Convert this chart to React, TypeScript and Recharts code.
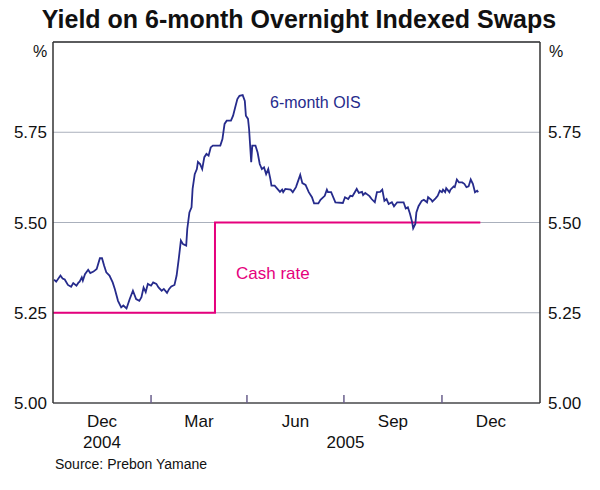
import React from 'react'
import { LineChart, Line, XAxis, YAxis, CartesianGrid, ReferenceLine } from 'recharts'

// x values are days counted from 1 Oct 2004
const oisDays = [
  1, 3, 7, 9, 11, 14, 17, 19, 22, 24, 25, 27, 28, 30, 33, 35, 38, 41, 44, 46,
  48, 50, 53, 56, 58, 61, 64, 66, 69, 72, 75, 78, 81, 83, 85, 87, 89, 92, 94, 97,
  99, 102, 104, 107, 109, 111, 114, 116, 118, 120, 122, 125, 126, 128, 130, 131, 133, 135, 136, 138,
  140, 142, 144, 146, 148, 150, 157, 159, 161, 163, 167, 169, 171, 173, 175, 178, 180, 181, 183, 184,
  186, 187, 190, 192, 194, 196, 198, 200, 202, 204, 205, 208, 213, 215, 216, 218, 223, 225, 228, 232,
  234, 237, 240, 243, 245, 249, 251, 255, 257, 258, 261, 265, 272, 274, 277, 279, 281, 285, 287, 290,
  291, 293, 297, 299, 302, 304, 307, 309, 311, 313, 315, 318, 320, 323, 329, 331, 333, 335, 337, 338,
  340, 341, 343, 346, 348, 351, 352, 355, 356, 359, 361, 363, 365, 366, 368, 369, 372, 373, 376, 377,
  379, 381, 384, 386, 388, 390, 392, 394, 396, 398, 399,
]
const oisYield = [
  5.342, 5.336, 5.353, 5.345, 5.342, 5.327, 5.322, 5.332, 5.325, 5.334, 5.336, 5.348, 5.339, 5.357, 5.369, 5.36, 5.364, 5.371, 5.401, 5.401,
  5.38, 5.362, 5.353, 5.334, 5.316, 5.283, 5.265, 5.27, 5.262, 5.288, 5.311, 5.288, 5.283, 5.293, 5.32, 5.307, 5.33, 5.325, 5.334, 5.33,
  5.32, 5.311, 5.316, 5.305, 5.316, 5.323, 5.327, 5.353, 5.399, 5.45, 5.44, 5.436, 5.482, 5.528, 5.542, 5.593, 5.634, 5.648, 5.668, 5.662,
  5.648, 5.681, 5.69, 5.685, 5.708, 5.713, 5.713, 5.731, 5.773, 5.782, 5.782, 5.796, 5.819, 5.842, 5.851, 5.853, 5.837, 5.796, 5.787, 5.759,
  5.667, 5.713, 5.713, 5.694, 5.662, 5.648, 5.653, 5.634, 5.648, 5.62, 5.602, 5.602, 5.585, 5.591, 5.584, 5.593, 5.591, 5.584, 5.598, 5.632,
  5.609, 5.604, 5.584, 5.57, 5.553, 5.553, 5.563, 5.574, 5.591, 5.584, 5.584, 5.556, 5.554, 5.57, 5.565, 5.574, 5.573, 5.593, 5.582, 5.585,
  5.576, 5.582, 5.573, 5.565, 5.556, 5.584, 5.585, 5.591, 5.56, 5.565, 5.551, 5.556, 5.545, 5.556, 5.556, 5.539, 5.542, 5.524, 5.501, 5.484,
  5.496, 5.528, 5.545, 5.56, 5.563, 5.556, 5.57, 5.563, 5.558, 5.567, 5.574, 5.588, 5.584, 5.591, 5.584, 5.595, 5.584, 5.591, 5.6, 5.598,
  5.619, 5.611, 5.611, 5.607, 5.598, 5.6, 5.619, 5.607, 5.584, 5.588, 5.584,
]
const cashDays = [0, 152, 401]
const cashRate = [5.25, 5.5, 5.5]

const quarterStarts = [92, 182, 273, 365]
const monthLabelDays = [46, 137, 227.5, 319, 411]
const monthLabels = ['Dec', 'Mar', 'Jun', 'Sep', 'Dec']
const yearLabelDays = [46, 274.5]
const yearLabels = ['2004', '2005']
const yTicks = [5, 5.25, 5.5, 5.75]

const oisData = oisDays.map((d, i) => ({ day: d, v: oisYield[i] }))
const cashData = cashDays.map((d, i) => ({ day: d, v: cashRate[i] }))
const xTicks = [...quarterStarts, ...monthLabelDays, 274.5]

const FONT = '"Liberation Sans", Arial, sans-serif'
const OIS_COLOR = '#262b8c'
const CASH_COLOR = '#e5007d'

function DateTick(props: any) {
  const { x, y, payload } = props
  const v = payload.value
  if (quarterStarts.includes(v)) {
    return <line x1={x} x2={x} y1={y - 8} y2={y} stroke="#6a5f8c" strokeWidth={1.5} />
  }
  const mi = monthLabelDays.indexOf(v)
  const yi = yearLabelDays.indexOf(v)
  return (
    <g>
      {mi >= 0 && (
        <text x={x} y={y + 24} textAnchor="middle" fontSize={17} fontFamily={FONT} fill="#111">
          {monthLabels[mi]}
        </text>
      )}
      {yi >= 0 && (
        <text x={x} y={y + 45} textAnchor="middle" fontSize={17} fontFamily={FONT} fill="#111">
          {yearLabels[yi]}
        </text>
      )}
    </g>
  )
}

export default function App() {
  const tickStyle = { fontSize: 17, fontFamily: FONT, fill: '#111' }
  return (
    <div style={{ position: 'absolute', left: 0, top: 0, width: 600, height: 490, background: '#fff' }}>
      <LineChart width={600} height={490} margin={{ top: 42, right: 0, bottom: 27, left: 0 }}>
        <CartesianGrid yAxisId="left" vertical={false} stroke="#aab0bc" strokeWidth={1} />
        <XAxis
          dataKey="day"
          type="number"
          domain={[0, 457]}
          ticks={xTicks}
          interval={0}
          tick={<DateTick />}
          tickLine={false}
          tickSize={0}
          tickMargin={0}
          height={60}
          stroke="#555"
          strokeWidth={1.5}
          allowDataOverflow
        />
        <YAxis
          yAxisId="left"
          orientation="left"
          width={53}
          domain={[5, 6]}
          ticks={yTicks}
          tickFormatter={(v: number) => v.toFixed(2)}
          tickLine={false}
          tickSize={0}
          tickMargin={6}
          tick={tickStyle}
          stroke="#333"
          strokeWidth={1.5}
          allowDataOverflow
        />
        <YAxis
          yAxisId="right"
          orientation="right"
          width={60}
          domain={[5, 6]}
          ticks={yTicks}
          tickFormatter={(v: number) => v.toFixed(2)}
          tickLine={false}
          tickSize={0}
          tickMargin={8}
          tick={{ ...tickStyle, textAnchor: 'start' }}
          stroke="#333"
          strokeWidth={1.5}
          allowDataOverflow
        />
        <ReferenceLine yAxisId="left" y={6} stroke="#333" strokeWidth={1.5} ifOverflow="visible" />
        <Line
          yAxisId="left"
          data={cashData}
          dataKey="v"
          type="stepAfter"
          stroke={CASH_COLOR}
          strokeWidth={2}
          dot={false}
          isAnimationActive={false}
        />
        <Line
          yAxisId="left"
          data={oisData}
          dataKey="v"
          type="linear"
          stroke={OIS_COLOR}
          strokeWidth={1.8}
          dot={false}
          isAnimationActive={false}
        />
      </LineChart>
      <svg
        width={600}
        height={490}
        style={{ position: 'absolute', left: 0, top: 0, pointerEvents: 'none' }}
        fontFamily={FONT}
      >
        <text x={299} y={28} textAnchor="middle" fontSize={25} fontWeight="bold" fill="#111">
          Yield on 6-month Overnight Indexed Swaps
        </text>
        <text x={40} y={57} textAnchor="middle" fontSize={16} fill="#111">%</text>
        <text x={556} y={57} textAnchor="middle" fontSize={16} fill="#111">%</text>
        <text x={270} y={108} fontSize={16} fill={OIS_COLOR}>6-month OIS</text>
        <text x={236} y={279} fontSize={17} fill={CASH_COLOR}>Cash rate</text>
        <text x={55} y={469} fontSize={14} fill="#111">Source: Prebon Yamane</text>
      </svg>
    </div>
  )
}
